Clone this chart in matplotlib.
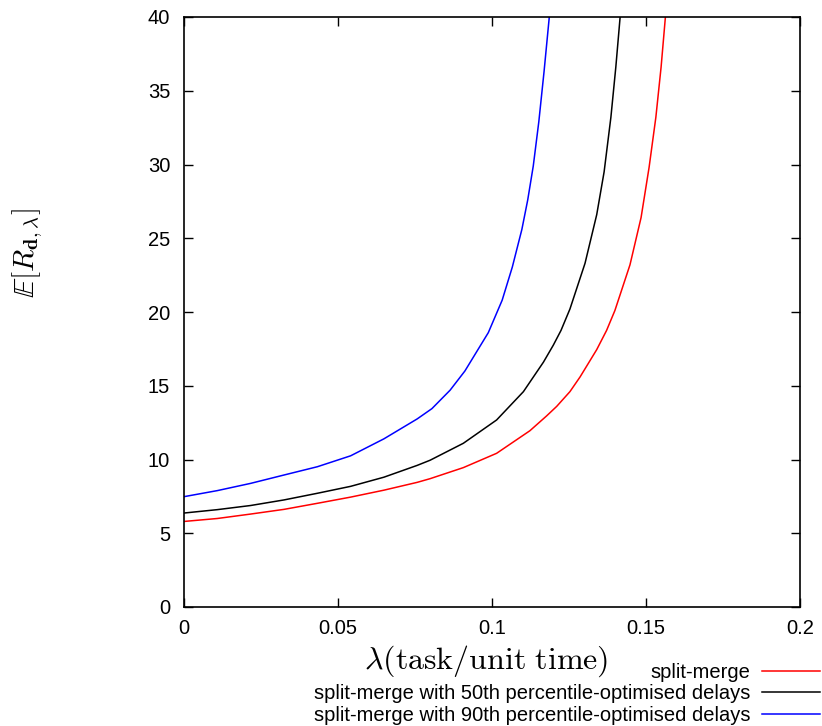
import matplotlib
matplotlib.use("Agg")
import matplotlib.pyplot as plt

plt.rcParams['font.family'] = ['Liberation Sans', 'DejaVu Sans']
plt.rcParams['mathtext.fontset'] = 'cm'

# Data
lam_sm = [0, 0.0108, 0.0216, 0.0325, 0.0433, 0.0541, 0.0649, 0.0757, 0.0799,
          0.0907, 0.1015, 0.1123, 0.1177, 0.121, 0.1253, 0.1286, 0.134,
          0.1372, 0.1399, 0.1448, 0.1484, 0.151, 0.1532, 0.1549, 0.1563]
r_sm = [5.80, 6.0, 6.3, 6.62, 7.03, 7.45, 7.92, 8.45, 8.7,
        9.45, 10.42, 11.95, 12.95, 13.6, 14.6, 15.6, 17.45,
        18.75, 20.1, 23.2, 26.4, 29.8, 33.2, 36.6, 40.0]

lam_50 = [0, 0.0108, 0.0216, 0.0325, 0.0433, 0.0541, 0.0649, 0.0757, 0.0799,
          0.0907, 0.1015, 0.1102, 0.1167, 0.1199, 0.1224, 0.1253, 0.1302,
          0.134, 0.1364, 0.1386, 0.1402, 0.1416]
r_50 = [6.37, 6.6, 6.88, 7.26, 7.71, 8.18, 8.8, 9.6, 9.95,
        11.1, 12.68, 14.6, 16.6, 17.75, 18.75, 20.2, 23.3,
        26.6, 29.5, 33.2, 36.6, 40.0]

lam_90 = [0, 0.0108, 0.0216, 0.0325, 0.0433, 0.0541, 0.0649, 0.0757, 0.0805,
          0.0864, 0.0912, 0.0988, 0.1033, 0.1066, 0.1097, 0.1116, 0.1134,
          0.1152, 0.1169, 0.1186]
r_90 = [7.48, 7.89, 8.38, 8.95, 9.51, 10.25, 11.4, 12.75, 13.45,
        14.7, 16.0, 18.6, 20.8, 23.05, 25.6, 27.6, 29.9,
        32.9, 36.3, 40.0]

labels = ['split-merge',
          'split-merge with 50th percentile-optimised delays',
          'split-merge with 90th percentile-optimised delays']
xticks = [0, 0.05, 0.1, 0.15, 0.2]
xtick_labels = ['0', '0.05', '0.1', '0.15', '0.2']
yticks = [0, 5, 10, 15, 20, 25, 30, 35, 40]

fig = plt.figure(figsize=(8.22, 7.26), dpi=100)
ax = fig.add_axes([184/822, 1-607/726, (800-184)/822, (607-17)/726])

l1, = ax.plot(lam_sm, r_sm, color='#ff0000', lw=1.1, label=labels[0])
l2, = ax.plot(lam_50, r_50, color='#000000', lw=1.1, label=labels[1])
l3, = ax.plot(lam_90, r_90, color='#0000ff', lw=1.1, label=labels[2])

ax.set_xlim(0, 0.2)
ax.set_ylim(0, 40)
ax.set_xticks(xticks)
ax.set_xticklabels(xtick_labels)
ax.set_yticks(yticks)
ax.tick_params(direction='in', length=6.5, width=1.0, top=True, right=True,
               labelsize=14.5, colors='black')
ax.tick_params(axis='y', pad=10)
ax.tick_params(axis='x', pad=9)
for s in ax.spines.values():
    s.set_linewidth(1.2)

fig.text(486/822, 1-661/726, r'$\lambda(\mathrm{task/unit\ time})$',
         ha='center', va='center', fontsize=23)
fig.text(28/822, 1-253/726, r'$\mathbb{E}[R_{\mathbf{d},\lambda}]$',
         ha='center', va='center', fontsize=21, rotation=90)

leg = fig.legend(handles=[l1, l2, l3], loc='upper right',
                 bbox_to_anchor=(820/822, 1-663/726), frameon=False,
                 markerfirst=False, fontsize=14.5, handlelength=2.9,
                 handletextpad=0.55, labelspacing=0.12, borderpad=0,
                 borderaxespad=0)

fig.savefig('out.png', dpi=100)
